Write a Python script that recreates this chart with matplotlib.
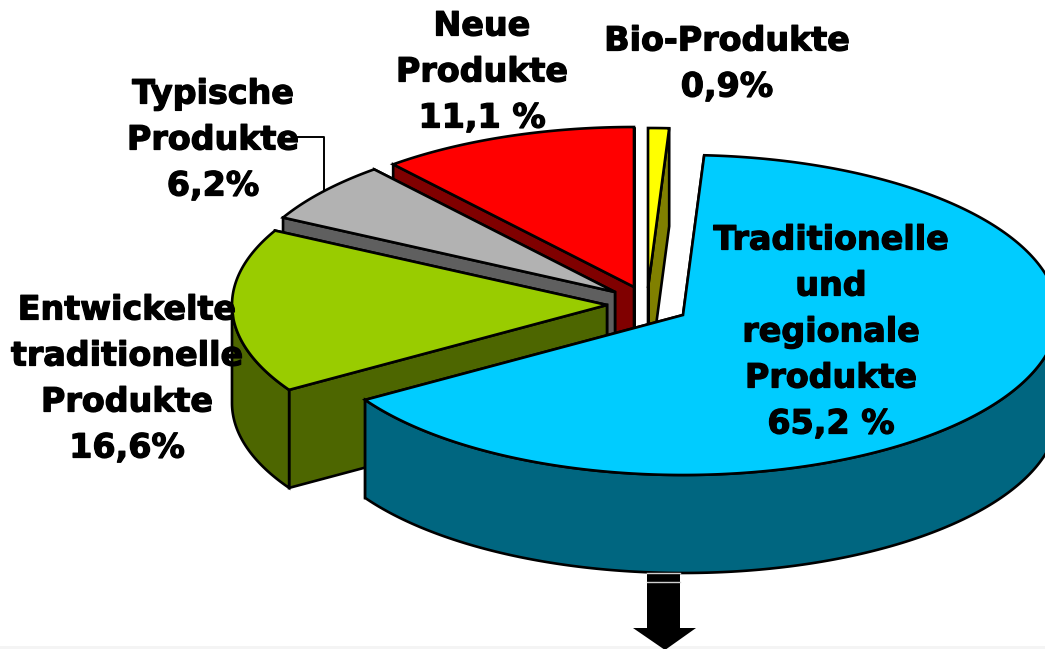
import numpy as np
import matplotlib
matplotlib.use('Agg')
import matplotlib.pyplot as plt
import matplotlib.patheffects as pe
from matplotlib.patches import Polygon

# Anteile in Prozent, gegen den Uhrzeigersinn ab 12 Uhr
names = ['Neue Produkte', 'Typische Produkte', 'Entwickelte traditionelle Produkte',
         'Traditionelle und regionale Produkte', 'Bio-Produkte']
values = [11.1, 6.2, 16.6, 65.2, 0.9]
top_colors = ['#FF0000', '#B2B2B2', '#99CC00', '#00CCFF', '#FFFF00']
side_colors = ['#800000', '#5F5F5F', '#4D6600', '#006680', '#808000']
apex_x = [634, 615, 607, 683, 648]
apex_y = [287, 292, 305, 315, 288]
draw_order = [4, 0, 1, 2, 3]

label_texts = ['Bio-Produkte\n0,9%', 'Neue\nProdukte\n11,1 %', 'Typische\nProdukte\n6,2%',
               'Entwickelte\ntraditionelle\nProdukte\n16,6%',
               'Traditionelle\nund\nregionale\nProdukte\n65,2 %']
label_x = [727, 482, 213, 127, 831]
label_y = [64, 72, 140, 379, 332]

RX = 375
RY = 160
DEPTH = 98
START = 90
LW = 1.9


def rim(cx, cy, t):
    rad = np.radians(t)
    return cx + RX * np.cos(rad), cy - RY * np.sin(rad)


def add_poly(ax, xs, ys, color):
    ax.add_patch(Polygon(np.column_stack([xs, ys]), closed=True, facecolor=color,
                         edgecolor='black', linewidth=LW, joinstyle='miter'))


def draw_slice(ax, t0, t1, cx, cy, top, side):
    # Schnittflaechen
    for t in (t0, t1):
        x, y = rim(cx, cy, t)
        add_poly(ax, [cx, x, x, cx], [cy, y, y + DEPTH, cy + DEPTH], side)

    # Aussenwand, nur der vordere Teil (180-360 Grad) ist sichtbar
    w0 = max(t0, 180)
    w1 = min(t1, 360)
    if w1 > w0:
        ts = np.linspace(w0, w1, 200)
        x, y = rim(cx, cy, ts)
        add_poly(ax, np.r_[x, x[::-1]], np.r_[y, y[::-1] + DEPTH], side)

    # Deckflaeche
    ts = np.linspace(t0, t1, 300)
    x, y = rim(cx, cy, ts)
    add_poly(ax, np.r_[cx, x], np.r_[cy, y], top)


fig = plt.figure(figsize=(10.45, 6.49), dpi=100)
ax = fig.add_axes([0, 0, 1, 1])
ax.set_xlim(0, 1045)
ax.set_ylim(649, 0)
ax.axis('off')

# Leicht grauer Streifen am unteren Rand
ax.axhspan(646, 649, color='#f4f4f4', lw=0)

# Pfeil unter dem blauen Segment
ax.add_patch(Polygon([(647, 560), (680, 560), (680, 628), (696, 628), (665, 650),
                      (633, 628), (647, 628)], closed=True, facecolor='black', edgecolor='none'))
ax.plot([647, 680], [573, 573], color='#d0d0d0', lw=1)
ax.plot([647, 680], [582, 582], color='#d0d0d0', lw=1)

angles = np.cumsum(np.r_[0, values]) * 3.6 + START
for i in draw_order:
    draw_slice(ax, angles[i], angles[i + 1], apex_x[i], apex_y[i], top_colors[i], side_colors[i])

# Fuehrungslinie fuer "Typische Produkte"
ax.plot([298, 324, 324], [137, 137, 190], color='black', lw=1.4)

for txt, x, y in zip(label_texts, label_x, label_y):
    ax.text(x, y, txt, ha='center', va='center', fontsize=24, fontweight='bold',
            family='DejaVu Sans', color='black', linespacing=1.5,
            path_effects=[pe.withStroke(linewidth=0.9, foreground='black')])

fig.savefig('out.png', dpi=100)
